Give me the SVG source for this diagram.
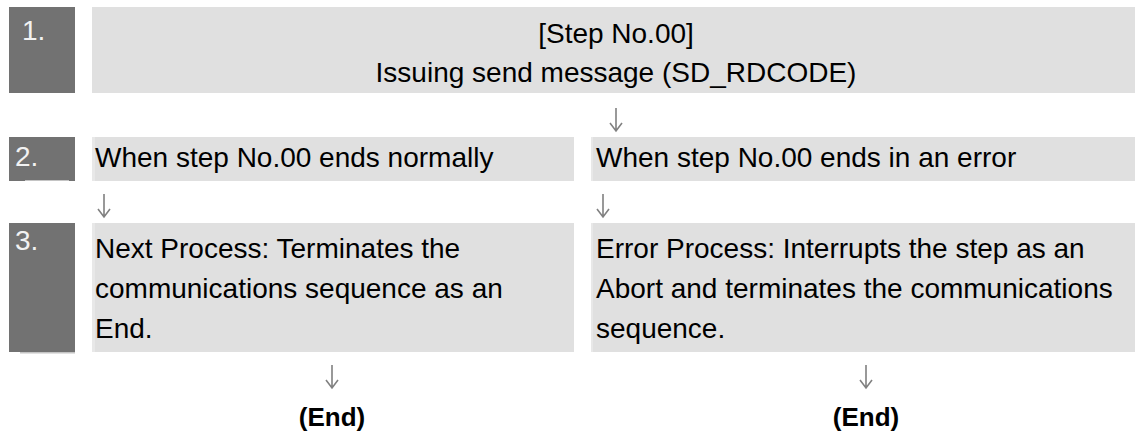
<svg xmlns="http://www.w3.org/2000/svg" width="1144" height="438" viewBox="0 0 1144 438">
  <style>
    .num { fill: #727272; }
    .lbl { fill: #e0e0e0; }
    .edge { fill: #e8e8e8; }
    .rule { fill: #c4c4c4; }
    .numtxt { font-family: "Liberation Sans", Arial, sans-serif; font-size: 28px; fill: #f2f2f2; }
    .txt { font-family: "Liberation Sans", Arial, sans-serif; font-size: 28px; fill: #000000; }
    .end { font-family: "Liberation Sans", Arial, sans-serif; font-size: 26px; font-weight: bold; fill: #000000; text-anchor: middle; }
    .arrow { fill: none; stroke: #808080; stroke-width: 1.6; }
  </style>
  <defs>
    <path id="arr" d="M0,0 V23 M-6,15 L0,23 L6,15"/>
  </defs>
  <rect width="1144" height="438" fill="#ffffff"/>

  <g id="step1">
    <rect class="num" x="9" y="7" width="66" height="86"/>
    <text class="numtxt" x="22" y="40">1.</text>
    <rect class="lbl" x="92" y="7" width="1043" height="86"/>
    <text class="txt" x="616" y="43" text-anchor="middle">[Step No.00]</text>
    <text class="txt" x="616" y="82" text-anchor="middle">Issuing send message (SD_RDCODE)</text>
  </g>

  <g id="step2">
    <rect class="num" x="9" y="137" width="66" height="44"/>
    <rect class="rule" x="25" y="180" width="44" height="1"/>
    <text class="numtxt" x="15" y="166">2.</text>
    <g id="normal">
      <rect class="lbl" x="92" y="137" width="482" height="44"/>
      <rect class="edge" x="92" y="137" width="3" height="44"/>
      <text class="txt" x="95" y="167">When step No.00 ends normally</text>
    </g>
    <g id="error">
      <rect class="lbl" x="591" y="137" width="544" height="44"/>
      <rect class="edge" x="591" y="137" width="2" height="44"/>
      <text class="txt" x="596" y="167">When step No.00 ends in an error</text>
    </g>
  </g>

  <g id="step3">
    <rect class="num" x="9" y="223" width="66" height="129"/>
    <rect class="rule" x="20" y="352" width="55" height="1.5"/>
    <text class="numtxt" x="15" y="250">3.</text>
    <g id="next">
      <rect class="lbl" x="92" y="223" width="482" height="129"/>
      <rect class="edge" x="92" y="223" width="3" height="129"/>
      <text class="txt" x="95" y="258">Next Process: Terminates the</text>
      <text class="txt" x="95" y="298">communications sequence as an</text>
      <text class="txt" x="95" y="338">End.</text>
    </g>
    <g id="errproc">
      <rect class="lbl" x="591" y="223" width="544" height="129"/>
      <rect class="edge" x="591" y="223" width="2" height="129"/>
      <text class="txt" x="596" y="258">Error Process: Interrupts the step as an</text>
      <text class="txt" x="596" y="298">Abort and terminates the communications</text>
      <text class="txt" x="596" y="338">sequence.</text>
    </g>
  </g>

  <g id="end-left">
    <text class="end" x="332" y="426">(End)</text>
  </g>
  <g id="end-right">
    <text class="end" x="866" y="426">(End)</text>
  </g>

  <g id="connectors" class="arrow">
    <use href="#arr" x="616" y="108"/>
    <use href="#arr" x="104" y="194"/>
    <use href="#arr" x="603" y="194"/>
    <use href="#arr" x="332" y="365"/>
    <use href="#arr" x="866" y="365"/>
  </g>
</svg>
